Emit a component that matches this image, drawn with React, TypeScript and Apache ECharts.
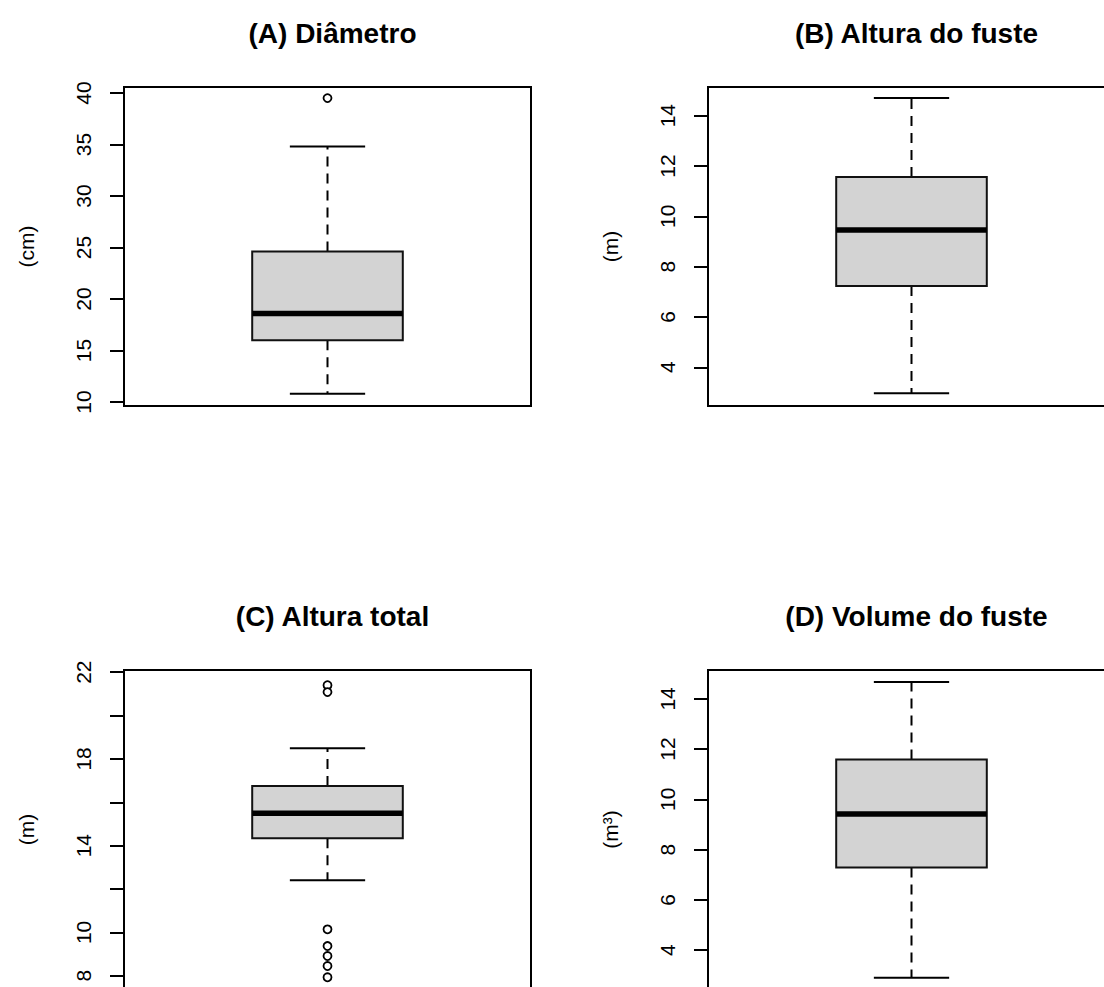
import React, { useEffect, useRef } from "react";
import * as echarts from "echarts";

// Panel texts
const panelTitles = ["(A) Diâmetro", "(B) Altura do fuste", "(C) Altura total", "(D) Volume do fuste"];
const axisNames = ["(cm)", "(m)", "(m)", "(m³)"];

// Five-number summaries: [lower whisker, Q1, median, Q3, upper whisker]
const diametroBox = [10.8, 16.0, 18.6, 24.6, 34.8];
const alturaFusteBox = [2.97, 7.23, 9.46, 11.56, 14.7];
const alturaTotalBox = [12.4, 14.34, 15.49, 16.75, 18.49];
const volumeFusteBox = [2.9, 7.29, 9.42, 11.59, 14.67];

// Outliers
const diametroOutliers = [39.5];
const alturaFusteOutliers: number[] = [];
const alturaTotalOutliers = [21.4, 21.08, 10.14, 9.37, 8.91, 8.45, 7.93];
const volumeFusteOutliers: number[] = [];

// Axis ranges
const axisMin = [9.61, 2.46, 7.39, 2.45];
const axisMax = [40.58, 15.14, 22.1, 15.15];

// Tick marks and tick labels
const diametroTicks = [10, 15, 20, 25, 30, 35, 40];
const fusteTicks = [4, 6, 8, 10, 12, 14];
const totalTicks = [8, 10, 12, 14, 16, 18, 20, 22];
const totalLabels = [8, 10, 14, 18, 22];
const volumeTicks = [4, 6, 8, 10, 12, 14];

const boxes = [diametroBox, alturaFusteBox, alturaTotalBox, volumeFusteBox];
const outliers = [diametroOutliers, alturaFusteOutliers, alturaTotalOutliers, volumeFusteOutliers];
const ticks = [diametroTicks, fusteTicks, totalTicks, volumeTicks];
const labels = [diametroTicks, fusteTicks, totalLabels, volumeTicks];

const FONT = "'Liberation Sans', Arial, Helvetica, sans-serif";

const gridPos = [
  { left: 124, top: 87 },
  { left: 708, top: 87 },
  { left: 124, top: 670 },
  { left: 708, top: 670 },
];
const GW = 407;
const GH = 319;
const LW = 2;

function renderBox(params: any, api: any) {
  const x = api.value(0);
  const pMin = api.coord([x, api.value(1)]);
  const pQ1 = api.coord([x, api.value(2)]);
  const pMed = api.coord([x, api.value(3)]);
  const pQ3 = api.coord([x, api.value(4)]);
  const pMax = api.coord([x, api.value(5)]);
  const band = api.size([1, 0])[0];
  const bw = band * 0.37;
  const cw = bw / 2;
  const cx = pMed[0];
  const dash = { stroke: "#000", lineWidth: LW, lineDash: [10, 7] };
  const solid = { stroke: "#000", lineWidth: LW };
  return {
    type: "group",
    children: [
      { type: "line", shape: { x1: cx, y1: pQ3[1], x2: cx, y2: pMax[1] }, style: dash },
      { type: "line", shape: { x1: cx, y1: pQ1[1], x2: cx, y2: pMin[1] }, style: dash },
      { type: "line", shape: { x1: cx - cw / 2, y1: pMax[1], x2: cx + cw / 2, y2: pMax[1] }, style: solid },
      { type: "line", shape: { x1: cx - cw / 2, y1: pMin[1], x2: cx + cw / 2, y2: pMin[1] }, style: solid },
      {
        type: "rect",
        shape: { x: cx - bw / 2, y: pQ3[1], width: bw, height: pQ1[1] - pQ3[1] },
        style: { fill: "#d3d3d3", stroke: "#111", lineWidth: LW },
      },
      { type: "line", shape: { x1: cx - bw / 2, y1: pMed[1], x2: cx + bw / 2, y2: pMed[1] }, style: { stroke: "#000", lineWidth: 5.5 } },
    ],
  };
}

export default function App() {
  const ref = useRef<HTMLDivElement>(null);
  useEffect(() => {
    if (!ref.current) return;
    const chart = echarts.init(ref.current, null, { renderer: "svg" });
    const option: any = {
      animation: false,
      backgroundColor: "#fff",
      title: panelTitles.map((t, i) => ({
        text: t,
        left: gridPos[i].left + GW / 2,
        top: gridPos[i].top - 73,
        textAlign: "center",
        textStyle: { fontSize: 28, fontWeight: "bold", color: "#000", fontFamily: FONT },
      })),
      grid: gridPos.map((g) => ({
        left: g.left,
        top: g.top,
        width: GW,
        height: GH,
        show: true,
        borderColor: "#000",
        borderWidth: LW,
        backgroundColor: "transparent",
        containLabel: false,
      })),
      xAxis: panelTitles.map((t, i) => ({
        type: "category",
        gridIndex: i,
        data: [t],
        axisLine: { show: false },
        axisTick: { show: false },
        axisLabel: { show: false },
        splitLine: { show: false },
      })),
      yAxis: panelTitles.map((t, i) => ({
        type: "value",
        gridIndex: i,
        min: axisMin[i],
        max: axisMax[i],
        axisLine: { show: false },
        splitLine: { show: false },
        axisTick: { show: true, length: 14, customValues: ticks[i], lineStyle: { color: "#000", width: LW } },
        axisLabel: {
          customValues: labels[i],
          rotate: 90,
          margin: 30,
          fontSize: 21,
          color: "#000",
          fontFamily: FONT,
        },
        name: axisNames[i],
        nameLocation: "middle",
        nameRotate: 90,
        nameGap: 87,
        nameTextStyle: { fontSize: 21, color: "#000", fontFamily: FONT },
      })),
      series: [
        ...boxes.map((b, i) => ({
          type: "custom",
          xAxisIndex: i,
          yAxisIndex: i,
          renderItem: renderBox,
          encode: { x: 0, y: [1, 2, 3, 4, 5] },
          data: [[0, ...b]],
          z: 2,
        })),
        ...outliers.map((o, i) => ({
          type: "scatter",
          xAxisIndex: i,
          yAxisIndex: i,
          symbol: "circle",
          symbolSize: 8,
          itemStyle: { color: "#fff", borderColor: "#000", borderWidth: 1.8, opacity: 1 },
          data: o.map((v) => [0, v]),
          z: 3,
        })),
      ],
    };
    chart.setOption(option);
    return () => chart.dispose();
  }, []);
  return (
    <div style={{ position: "fixed", left: 0, top: 0, width: 1104, height: 987, overflow: "hidden", background: "#fff" }}>
      <div ref={ref} style={{ width: 1168, height: 1166 }} />
    </div>
  );
}
